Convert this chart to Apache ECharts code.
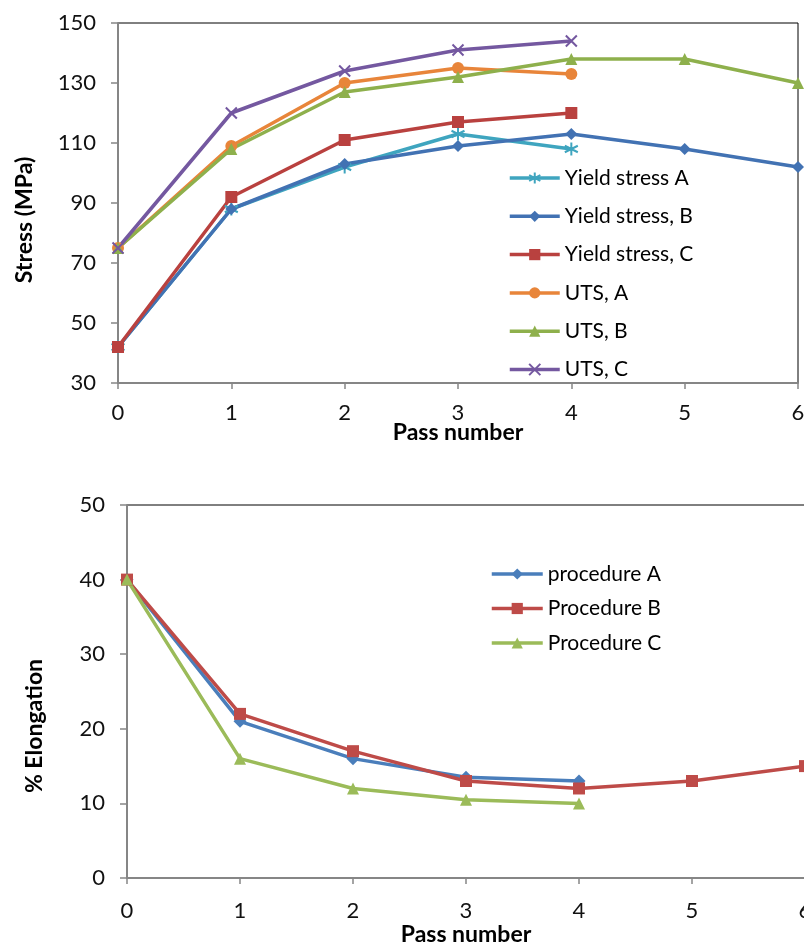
<!DOCTYPE html>
<html>
<head>
<meta charset="utf-8">
<script src="https://cdn.jsdelivr.net/npm/echarts@6/dist/echarts.min.js"></script>
<style>
  html, body { margin: 0; padding: 0; background: #fff; }
  #chart { width: 804px; height: 949px; }
</style>
</head>
<body>
<div id="chart"></div>
<script>
// pass numbers shared by both charts
var passes = [0, 1, 2, 3, 4, 5, 6];

// stress chart (MPa)
var yieldA = [42, 88, 102, 113, 108];
var yieldB = [42, 88, 103, 109, 113, 108, 102];
var yieldC = [42, 92, 111, 117, 120];
var utsA = [75, 109, 130, 135, 133];
var utsB = [75, 108, 127, 132, 138, 138, 130];
var utsC = [75, 120, 134, 141, 144];

// elongation chart (%)
var procA = [40, 21, 16, 13.5, 13];
var procB = [40, 22, 17, 13, 12, 13, 15];
var procC = [40, 16, 12, 10.5, 10];

var FONT = 'Lato';
var AXIS_GREY = '#868686';

function pairs(values) {
    return values.map(function (v, i) { return [passes[i], v]; });
}

function lineSeries(name, values, color, symbol, size, gridIdx, stroke) {
    var s = {
        name: name,
        type: 'line',
        xAxisIndex: gridIdx,
        yAxisIndex: gridIdx,
        data: pairs(values),
        symbol: symbol,
        symbolSize: size,
        lineStyle: { color: color, width: 3.5 },
        itemStyle: { color: color },
        emphasis: { disabled: true },
        animation: false
    };
    if (stroke) {
        s.itemStyle = { color: color, borderColor: color, borderWidth: 2 };
    }
    return s;
}

function xAxis(gridIdx, labelMargin, nameGap) {
    return {
        type: 'value',
        gridIndex: gridIdx,
        min: 0,
        max: 6,
        interval: 1,
        name: 'Pass number',
        nameLocation: 'middle',
        nameGap: nameGap,
        nameMoveOverlap: false,
        nameTextStyle: { fontFamily: FONT, fontWeight: 'bold', fontSize: 23, color: '#000' },
        axisLine: { lineStyle: { color: AXIS_GREY, width: 2 } },
        axisTick: { show: true, length: 6, lineStyle: { color: AXIS_GREY, width: 1.5 } },
        axisLabel: { fontFamily: FONT, fontSize: 22, color: '#111', margin: labelMargin },
        splitLine: { show: false }
    };
}

function yAxis(gridIdx, min, max, interval) {
    return {
        type: 'value',
        gridIndex: gridIdx,
        min: min,
        max: max,
        interval: interval,
        axisLine: { show: true, lineStyle: { color: AXIS_GREY, width: 2 } },
        axisTick: { show: true, length: 7, lineStyle: { color: AXIS_GREY, width: 1.5 } },
        axisLabel: { fontFamily: FONT, fontSize: 22, color: '#111', margin: 22 },
        splitLine: { show: false }
    };
}

var asterisk = 'path://M0,-6L0,6M-5.2,-3L5.2,3M-5.2,3L5.2,-3';
var cross = 'path://M-5,-5L5,5M-5,5L5,-5';

var legendText = { fontFamily: FONT, fontSize: 21, color: '#000', lineHeight: 24 };

var chart = echarts.init(document.getElementById('chart'));
chart.setOption({
    backgroundColor: '#fff',
    animation: false,
    grid: [
        { left: 118, top: 23, width: 680, height: 360, outerBoundsMode: 'none', show: true, borderColor: '#000', borderWidth: 1 },
        { left: 127, top: 505, width: 678, height: 373, outerBoundsMode: 'none', show: true, borderColor: '#000', borderWidth: 1 }
    ],
    xAxis: [xAxis(0, 19, 38), xAxis(1, 22, 45)],
    yAxis: [yAxis(0, 30, 150, 20), yAxis(1, 0, 50, 10)],
    legend: [
        {
            orient: 'vertical',
            left: 503,
            top: 161,
            itemWidth: 50,
            itemHeight: 14,
            itemGap: 14.3,
            lineStyle: { width: 3.5 },
            textStyle: legendText,
            data: ['Yield stress A', 'Yield stress, B', 'Yield stress, C', 'UTS, A', 'UTS, B', 'UTS, C']
        },
        {
            orient: 'vertical',
            left: 485,
            top: 557,
            itemWidth: 51,
            itemHeight: 14,
            itemGap: 10.5,
            lineStyle: { width: 3.5 },
            textStyle: legendText,
            data: ['procedure A', 'Procedure B', 'Procedure C']
        }
    ],
    graphic: [
        {
            type: 'text', x: 25, y: 220, rotation: Math.PI / 2,
            style: { text: 'Stress (MPa)', fontFamily: FONT, fontWeight: 'bold', fontSize: 23, fill: '#000', align: 'center', verticalAlign: 'middle' }
        },
        {
            type: 'text', x: 35, y: 726, rotation: Math.PI / 2,
            style: { text: '% Elongation', fontFamily: FONT, fontWeight: 'bold', fontSize: 23, fill: '#000', align: 'center', verticalAlign: 'middle' }
        }
    ],
    series: [
        lineSeries('Yield stress A', yieldA, '#3FA5BF', asterisk, 13, 0, true),
        lineSeries('Yield stress, B', yieldB, '#4272B3', 'diamond', 12, 0),
        lineSeries('Yield stress, C', yieldC, '#B9413F', 'rect', 12, 0),
        lineSeries('UTS, A', utsA, '#E8853A', 'circle', 12, 0),
        lineSeries('UTS, B', utsB, '#8EB04C', 'triangle', 12, 0),
        lineSeries('UTS, C', utsC, '#7458A0', cross, 11, 0, true),
        lineSeries('procedure A', procA, '#4A7EBB', 'diamond', 13, 1),
        lineSeries('Procedure B', procB, '#BE4B48', 'rect', 12, 1),
        lineSeries('Procedure C', procC, '#9BBB59', 'triangle', 12, 1)
    ]
});
</script>
</body>
</html>
